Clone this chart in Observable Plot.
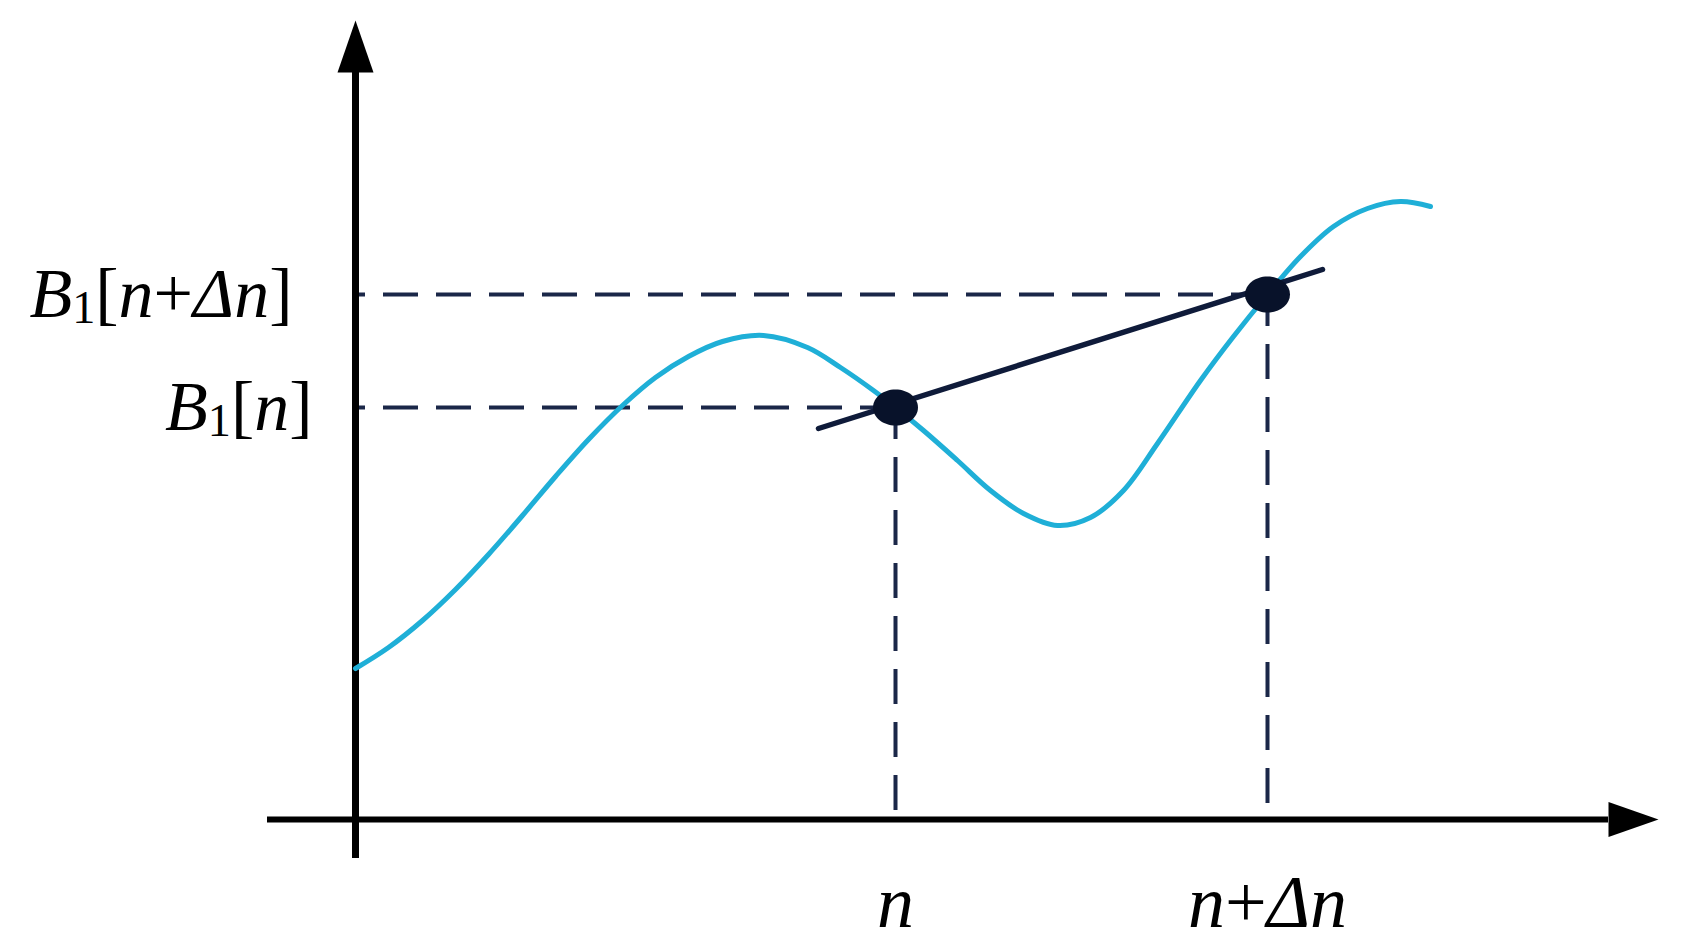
<!DOCTYPE html>
<html>
<head>
<meta charset="utf-8">
<script src="https://cdn.jsdelivr.net/npm/d3@7"></script>
<script src="https://cdn.jsdelivr.net/npm/@observablehq/plot@0.6"></script>
<style>
  html, body { margin: 0; padding: 0; background: #ffffff; }
  #chart svg { display: block; }
</style>
</head>
<body>
<div id="chart"></div>
<script>
// ---- data (chart units: origin of the axes at 0,0) ----
const curveX = [0, 3.3, 6.7, 10.0, 13.3, 16.7, 20.0, 23.3, 26.7, 30.0, 33.3, 36.7, 40.8, 45.2, 48.5, 51.8, 54.0, 56.8, 60.2, 63.5, 66.8, 70.2, 73.5, 76.8, 80.2, 84.5, 87.8, 91.2, 94.5, 97.8, 101.2, 104.5, 107.5];
const curveY = [15.1, 17.2, 19.9, 23.0, 26.5, 30.4, 34.3, 38.0, 41.4, 44.2, 46.3, 47.8, 48.4, 47.2, 45.2, 42.9, 41.2, 38.9, 35.9, 32.9, 30.6, 29.4, 30.2, 32.9, 37.6, 43.9, 48.3, 52.5, 56.3, 59.3, 61.1, 61.8, 61.3];

const sampleLabels = ["n", "n+Δn"];
const sampleX = [54.0, 91.2];
const valueLabels = ["B_1[n]", "B_1[n+Δn]"];
const valueY = [41.2, 52.5];
const guideBottom = [0.9, 1.6];

const tangentX = [46.3, 96.7];
const tangentY = [39.1, 55.0];

const xAxisExtent = [-8.8, 125.3];
const yAxisExtent = [-3.9, 74.7];
const xArrowTip = 130.3;
const yArrowTip = 79.9;

// ---- derived tables ----
const curve = curveX.map((x, i) => ({x, y: curveY[i]}));
const points = sampleX.map((x, i) => ({x, y: valueY[i], label: sampleLabels[i], vlabel: valueLabels[i], bottom: guideBottom[i]}));
const tangent = tangentX.map((x, i) => ({x, y: tangentY[i]}));

// ---- custom symbols ----
const ellipse = {
  draw(ctx) {
    const rx = 22.5, ry = 18, k = 0.5523;
    ctx.moveTo(rx, 0);
    ctx.bezierCurveTo(rx, ry * k, rx * k, ry, 0, ry);
    ctx.bezierCurveTo(-rx * k, ry, -rx, ry * k, -rx, 0);
    ctx.bezierCurveTo(-rx, -ry * k, -rx * k, -ry, 0, -ry);
    ctx.bezierCurveTo(rx * k, -ry, rx, -ry * k, rx, 0);
    ctx.closePath();
  }
};
const arrowUp = {
  draw(ctx) { ctx.moveTo(0, 0); ctx.lineTo(-18, 52); ctx.lineTo(18, 52); ctx.closePath(); }
};
const arrowRight = {
  draw(ctx) { ctx.moveTo(0, 0); ctx.lineTo(-50, -17.5); ctx.lineTo(-50, 17.5); ctx.closePath(); }
};

const dashColor = "#1b2748";
const navy = "#0f1b3a";
const cyan = "#1fafd7";
const font = "Liberation Serif, Times New Roman, serif";

const chart = Plot.plot({
  width: 1684,
  height: 950,
  margin: 0,
  x: {domain: [-35.5, 132.9], axis: null},
  y: {domain: [-13.1, 81.9], axis: null},
  style: {background: "#ffffff", overflow: "visible"},
  marks: [
    // dashed guides
    Plot.ruleY(points, {y: "y", x1: 0, x2: "x", stroke: dashColor, strokeWidth: 4, strokeDasharray: "35,18", strokeDashoffset: 25}),
    Plot.ruleX(points, {x: "x", y1: "bottom", y2: "y", stroke: dashColor, strokeWidth: 4, strokeDasharray: "35,18"}),
    // axes
    Plot.ruleY([0], {x1: xAxisExtent[0], x2: xAxisExtent[1], stroke: "#000", strokeWidth: 6}),
    Plot.ruleX([0], {y1: yAxisExtent[0], y2: yAxisExtent[1], stroke: "#000", strokeWidth: 7}),
    Plot.dot([{x: xArrowTip, y: 0}], {x: "x", y: "y", symbol: arrowRight, fill: "#000", stroke: "none"}),
    Plot.dot([{x: 0, y: yArrowTip}], {x: "x", y: "y", symbol: arrowUp, fill: "#000", stroke: "none"}),
    // curve
    Plot.line(curve, {x: "x", y: "y", curve: "catmull-rom", stroke: cyan, strokeWidth: 5, strokeLinecap: "round"}),
    // secant line
    Plot.line(tangent, {x: "x", y: "y", stroke: navy, strokeWidth: 5.5, strokeLinecap: "round"}),
    // points
    Plot.dot(points, {x: "x", y: "y", symbol: ellipse, fill: "#08122a", stroke: "none"}),
    // labels
    Plot.text(points.slice(0, 1), {x: 0, y: "y", text: "vlabel", textAnchor: "end", dx: -43, fontSize: 70, fontFamily: font, fill: "#000"}),
    Plot.text(points.slice(1, 2), {x: 0, y: "y", text: "vlabel", textAnchor: "end", dx: -63, fontSize: 70, fontFamily: font, fill: "#000"}),
    Plot.text(points, {x: "x", y: 0, text: "label", textAnchor: "middle", dy: 84, fontSize: 74, fontFamily: font, fill: "#000"})
  ]
});

// typeset labels: letters italic, "_x" as upright subscript, others upright
const ns = "http://www.w3.org/2000/svg";
chart.querySelectorAll("text").forEach(t => {
  const s = t.textContent;
  let fsAttr = t.getAttribute("font-size");
  let g = t.parentNode;
  while (!fsAttr && g && g.getAttribute) { fsAttr = g.getAttribute("font-size"); g = g.parentNode; }
  const fs = parseFloat(fsAttr) || 70;
  while (t.firstChild) t.removeChild(t.firstChild);
  let shift = 0;
  for (let i = 0; i < s.length; i++) {
    let ch = s[i];
    const span = document.createElementNS(ns, "tspan");
    if (ch === "_" && i + 1 < s.length) {
      ch = s[++i];
      span.setAttribute("font-size", (fs * 0.66).toFixed(1));
      span.setAttribute("dy", (fs * 0.09).toFixed(1));
      shift = fs * 0.09;
    } else {
      if (shift) { span.setAttribute("dy", (-shift).toFixed(1)); shift = 0; }
      if (/[A-Za-zΔ]/.test(ch)) span.setAttribute("font-style", "italic");
    }
    span.textContent = ch;
    t.appendChild(span);
  }
});

document.getElementById("chart").appendChild(chart);
</script>
</body>
</html>
